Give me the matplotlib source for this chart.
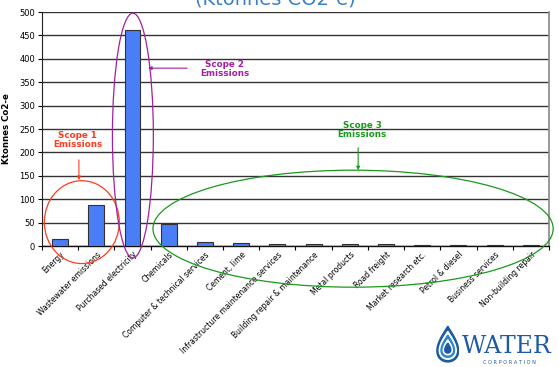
import numpy as np
import matplotlib.pyplot as plt
from matplotlib.patches import Ellipse, Polygon

categories = ['Energy', 'Wastewater emissions', 'Purchased electricity', 'Chemicals',
              'Computer & technical services', 'Cement, lime',
              'Infrastructure maintenance services', 'Building repair & maintenance',
              'Metal products', 'Road freight', 'Market research etc.',
              'Petrol & diesel', 'Business services', 'Non-building repair']
values = [14, 88, 462, 48, 8, 6, 4, 4, 4, 4, 3, 3, 3, 3]
yticks = [0, 50, 100, 150, 200, 250, 300, 350, 400, 450, 500]

fig = plt.figure(figsize=(5.59, 3.67), dpi=100)
ax = fig.add_axes([0.0751, 0.3297, 0.9070, 0.6376])

x = np.arange(len(categories))
ax.bar(x, values, width=0.44, color='#4a7ef6', edgecolor='#333333', linewidth=0.8, zorder=3)

ax.set_xlim(-0.5, len(categories) - 0.5)
ax.set_ylim(0, 500)
ax.set_yticks(yticks)
ax.tick_params(axis='y', labelsize=6, length=3, width=0.8, pad=2)
ax.set_xticks(x)
ax.set_xticklabels(categories, rotation=45, ha='right', rotation_mode='anchor', fontsize=5.5)
ax.tick_params(axis='x', length=0, pad=3)
# tick marks between categories
ax.set_xticks(np.arange(len(categories) + 1) - 0.5, minor=True)
ax.tick_params(axis='x', which='minor', length=3, width=0.8)
ax.yaxis.grid(True, color='#333333', linewidth=1.0, zorder=0)
ax.set_axisbelow(True)
ax.spines['top'].set_visible(False)
ax.spines['right'].set_color('#888888')
ax.spines['right'].set_linewidth(1.2)
ax.spines['left'].set_color('#222222')
ax.spines['bottom'].set_color('#111111')
ax.spines['bottom'].set_linewidth(1.0)
ax.set_ylabel('Ktonnes Co2-e', fontsize=6.2, fontweight='bold', labelpad=6)

# scope ellipses
ax.add_patch(Ellipse((0.6, 51), 2.07, 177, fill=False, edgecolor='#ff3b1f', lw=0.9, clip_on=False, zorder=4))
ax.add_patch(Ellipse((2.01, 236), 1.13, 523, fill=False, edgecolor='#a020a0', lw=0.9, clip_on=False, zorder=4))
ax.add_patch(Ellipse((8.09, 37), 11.05, 250, fill=False, edgecolor='#1a9a1a', lw=0.9, clip_on=False, zorder=4))

# scope labels and arrows
ax.text(0.49, 227, 'Scope 1\nEmissions', fontsize=6.3, fontweight='bold', color='#ff3b1f',
        ha='center', va='center', linespacing=1.0)
ax.annotate('', xy=(0.52, 141), xytext=(0.52, 184),
            arrowprops=dict(arrowstyle='-|>', color='#ff3b1f', lw=0.8, mutation_scale=5,
                            shrinkA=0, shrinkB=0))
ax.text(4.55, 378, 'Scope 2\nEmissions', fontsize=6.3, fontweight='bold', color='#a020a0',
        ha='center', va='center', linespacing=1.0)
ax.annotate('', xy=(2.43, 380), xytext=(3.51, 380),
            arrowprops=dict(arrowstyle='-|>', color='#a020a0', lw=0.8, mutation_scale=5,
                            shrinkA=0, shrinkB=0))
ax.text(8.34, 248, 'Scope 3\nEmissions', fontsize=6.3, fontweight='bold', color='#1a9a1a',
        ha='center', va='center', linespacing=1.0)
ax.annotate('', xy=(8.23, 162), xytext=(8.23, 210),
            arrowprops=dict(arrowstyle='-|>', color='#1a9a1a', lw=0.8, mutation_scale=5,
                            shrinkA=0, shrinkB=0))

# title, clipped at the top of the slide
fig.text(0.492, 0.989, '(Ktonnes CO2-e)', fontsize=14, color='#3a80c8', ha='center', va='baseline')

# Water Corporation logo
fig.text(0.907, 0.038, 'WATER', fontsize=17, family='DejaVu Serif', color='#1d5aa6', ha='center',
         va='baseline')
fig.text(0.912, 0.008, 'C O R P O R A T I O N', fontsize=3.6, color='#1d5aa6', ha='center')
lax = fig.add_axes([0.780, 0.01, 0.042, 0.105])
t = np.linspace(0, 2 * np.pi, 100)
for s, c in [(1.0, '#1d5aa6'), (0.78, 'white'), (0.62, '#2a86c8'), (0.42, 'white'), (0.28, '#1d5aa6')]:
    dx = s * np.sin(t) * np.sin(t / 2) ** 1.2
    dy = s * np.cos(t) * 1.3 - (1 - s) * 0.4
    lax.add_patch(Polygon(np.column_stack([dx, dy]), closed=True, color=c))
lax.set_xlim(-0.8, 0.8)
lax.set_ylim(-1.4, 1.4)
lax.axis('off')

fig.savefig('out.png', dpi=100)
